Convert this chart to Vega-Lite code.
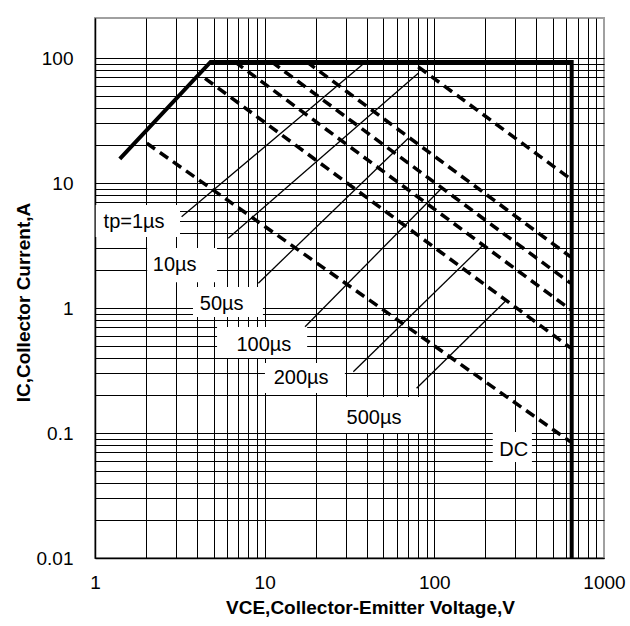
{
  "$schema": "https://vega.github.io/schema/vega-lite/v6.json",
  "width": 509,
  "height": 540,
  "autosize": {"type": "none"},
  "padding": {"left": 95, "top": 18, "right": 26, "bottom": 68},
  "background": "white",
  "config": {
    "font": "Liberation Sans",
    "view": {"stroke": "#a0a0a0", "strokeWidth": 2},
    "axis": {
      "grid": true,
      "gridColor": {"condition": {"test": "datum.value >= 1000", "value": "#a0a0a0"}, "value": "#000"},
      "gridWidth": 1,
      "gridOpacity": 1,
      "ticks": false,
      "domainColor": "#000",
      "domainWidth": 1.5,
      "labelFont": "Liberation Sans",
      "labelFontSize": 19,
      "labelColor": "#000",
      "labelOverlap": false,
      "labelFlush": false,
      "titleFont": "Liberation Sans",
      "titleFontSize": 19,
      "titleFontWeight": "bold",
      "titleColor": "#000"
    }
  },
  "datasets": {
    "boundary": [
      {"i": 0, "x": 1.4, "y": 15.6},
      {"i": 1, "x": 4.8, "y": 93},
      {"i": 2, "x": 645, "y": 93},
      {"i": 3, "x": 645, "y": 0.01}
    ],
    "pulses": [
      {"s": "10us", "x": 80.4, "y": 85},
      {"s": "10us", "x": 635, "y": 10.8},
      {"s": "50us", "x": 17.7, "y": 93},
      {"s": "50us", "x": 635, "y": 2.57},
      {"s": "100us", "x": 11, "y": 93},
      {"s": "100us", "x": 635, "y": 1.58},
      {"s": "200us", "x": 6.68, "y": 93},
      {"s": "200us", "x": 635, "y": 0.97},
      {"s": "500us", "x": 4.45, "y": 68.8},
      {"s": "500us", "x": 635, "y": 0.48},
      {"s": "DC", "x": 2.02, "y": 20.8},
      {"s": "DC", "x": 635, "y": 0.085}
    ],
    "leaders": [
      {"s": "L1", "x": 3.24, "y": 5.37},
      {"s": "L1", "x": 39, "y": 92},
      {"s": "L2", "x": 6.1, "y": 3.61},
      {"s": "L2", "x": 80.4, "y": 75.4},
      {"s": "L3", "x": 9.17, "y": 1.58},
      {"s": "L3", "x": 70.2, "y": 22.8},
      {"s": "L4", "x": 17.3, "y": 0.708},
      {"s": "L4", "x": 110.4, "y": 9.07},
      {"s": "L5", "x": 33.3, "y": 0.309},
      {"s": "L5", "x": 194, "y": 3.19},
      {"s": "L6", "x": 78.6, "y": 0.228},
      {"s": "L6", "x": 266.7, "y": 1.159}
    ],
    "labels": [
      {"text": "tp=1µs", "x": 1.7, "y": 4.88, "x1": 1.01, "x2": 3.17, "y1": 3.7, "y2": 6.67},
      {"text": "10µs", "x": 2.95, "y": 2.21, "x1": 2.03, "x2": 5.24, "y1": 1.61, "y2": 3.02},
      {"text": "50µs", "x": 5.58, "y": 1.077, "x1": 3.78, "x2": 9.77, "y1": 0.847, "y2": 1.47},
      {"text": "100µs", "x": 9.9, "y": 0.506, "x1": 5.24, "x2": 17.8, "y1": 0.398, "y2": 0.705},
      {"text": "200µs", "x": 16.4, "y": 0.275, "x1": 10.04, "x2": 29.7, "y1": 0.209, "y2": 0.363},
      {"text": "500µs", "x": 44.1, "y": 0.132, "x1": 28.9, "x2": 82.2, "y1": 0.1, "y2": 0.194},
      {"text": "DC", "x": 294, "y": 0.0731, "x1": 221, "x2": 376, "y1": 0.0586, "y2": 0.102}
    ]
  },
  "encoding": {
    "x": {
      "field": "x",
      "type": "quantitative",
      "scale": {"type": "log", "domain": [1, 1000], "nice": false},
      "axis": {
        "values": [1, 2, 3, 4, 5, 6, 7, 8, 9, 10, 20, 30, 40, 50, 60, 70, 80, 90, 100, 200, 300, 400, 500, 600, 700, 800, 900, 1000],
        "labelExpr": "abs(log(datum.value)/LN10 - round(log(datum.value)/LN10)) < 1e-6 ? format(datum.value, '~g') : ''",
        "labelPadding": 15,
        "title": "VCE,Collector-Emitter Voltage,V",
        "titleX": 275,
        "titleY": 49,
        "titleBaseline": "middle"
      }
    },
    "y": {
      "field": "y",
      "type": "quantitative",
      "scale": {"type": "log", "domain": [0.01, 209], "nice": false},
      "axis": {
        "values": [0.01, 0.02, 0.03, 0.04, 0.05, 0.06, 0.07, 0.08, 0.09, 0.1, 0.2, 0.3, 0.4, 0.5, 0.6, 0.7, 0.8, 0.9, 1, 2, 3, 4, 5, 6, 7, 8, 9, 10, 20, 30, 40, 50, 60, 70, 80, 90, 100],
        "labelExpr": "abs(log(datum.value)/LN10 - round(log(datum.value)/LN10)) < 1e-6 ? format(datum.value, '~g') : ''",
        "labelPadding": 22,
        "title": "IC,Collector Current,A",
        "titleX": -72,
        "titleY": 284,
        "titleBaseline": "middle"
      }
    }
  },
  "layer": [
    {
      "data": {"name": "labels"},
      "mark": {"type": "rect", "fill": "white", "stroke": null},
      "encoding": {
        "x": {"field": "x1", "type": "quantitative"},
        "x2": {"field": "x2"},
        "y": {"field": "y1", "type": "quantitative"},
        "y2": {"field": "y2"}
      }
    },
    {
      "data": {"name": "leaders"},
      "mark": {"type": "line", "color": "#000", "strokeWidth": 1.3},
      "encoding": {"detail": {"field": "s"}}
    },
    {
      "data": {"name": "pulses"},
      "mark": {"type": "line", "color": "#000", "strokeWidth": 3.5, "strokeDash": [10, 6]},
      "encoding": {"detail": {"field": "s"}}
    },
    {
      "data": {"name": "boundary"},
      "mark": {"type": "line", "color": "#000", "strokeWidth": 4, "strokeJoin": "miter"},
      "encoding": {"order": {"field": "i", "type": "quantitative"}}
    },
    {
      "data": {"name": "labels"},
      "mark": {"type": "text", "fontSize": 20, "color": "#000", "align": "center", "baseline": "middle", "font": "Liberation Sans"},
      "encoding": {"text": {"field": "text"}}
    }
  ]
}
